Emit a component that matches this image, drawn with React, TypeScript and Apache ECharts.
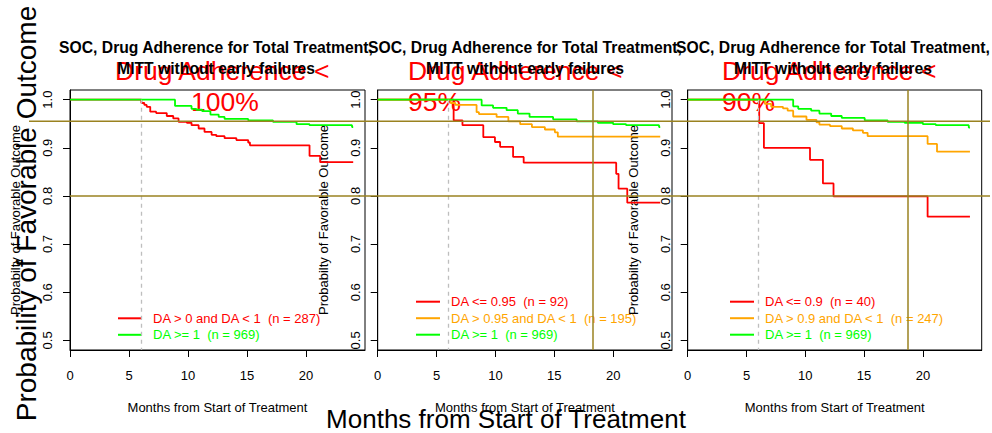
import React, { useEffect, useRef } from "react";
import * as echarts from "echarts";

const FONT = "'Liberation Sans', Arial, Helvetica, sans-serif";

const xTicks = [0, 5, 10, 15, 20];
const yTicks = [0.5, 0.6, 0.7, 0.8, 0.9, 1.0];

const panelTitle = "SOC, Drug Adherence for Total Treatment,\nMITT without early failures";
const yTitle = "Probabilty of Favorable Outcome";
const xTitle = "Months from Start of Treatment";
const outerYTitle = "Probability of Favorable Outcome";
const outerXTitle = "Months from Start of Treatment";
const annotLine1 = "Drug Adherence <";
const annotLine2 = ["100%", "95%", "90%"];

// Panel 1 (DA < 100%)
const p1RedName = "DA > 0 and DA < 1  (n = 287)";
const p1RedT = [0, 6.05, 6.3, 6.5, 6.8, 7.3, 8.2, 8.75, 9.2, 9.9, 10.3, 10.9, 11.4, 12.0, 12.4, 13.1, 14.1, 15.1, 15.25, 20.3, 21.2, 24.0];
const p1RedS = [1, 0.993, 0.989, 0.985, 0.975, 0.972, 0.966, 0.961, 0.954, 0.952, 0.947, 0.940, 0.933, 0.927, 0.924, 0.920, 0.916, 0.911, 0.905, 0.883, 0.870, 0.870];
const greenName = "DA >= 1  (n = 969)";
const p1GreenT = [0, 8.9, 10.3, 10.7, 11.2, 11.9, 12.6, 13.1, 15.1, 17.2, 19.2, 20.3, 23.9, 24.0];
const p1GreenS = [1, 0.987, 0.981, 0.979, 0.976, 0.969, 0.964, 0.960, 0.957, 0.954, 0.949, 0.947, 0.943, 0.943];

// Panel 2 (DA < 95%)
const p2RedName = "DA <= 0.95  (n = 92)";
const p2RedT = [0, 6.45, 7.2, 8.97, 9.96, 10.4, 11.5, 12.4, 20.26, 20.46, 21.2, 24.0];
const p2RedS = [1, 0.957, 0.947, 0.922, 0.912, 0.902, 0.881, 0.869, 0.846, 0.815, 0.786, 0.786];
const p2OrangeName = "DA > 0.95 and DA < 1  (n = 195)";
const p2OrangeT = [0, 6.2, 6.6, 8.4, 8.6, 10.1, 11.1, 12.1, 13.1, 14.2, 15.05, 15.3, 24.0];
const p2OrangeS = [1, 0.993, 0.989, 0.974, 0.970, 0.964, 0.955, 0.949, 0.943, 0.938, 0.932, 0.923, 0.923];
const p2GreenT = [0, 8.83, 9.8, 10.95, 11.9, 12.9, 14.9, 16.9, 18.7, 20.0, 21.1, 23.9, 24.0];
const p2GreenS = [1, 0.988, 0.983, 0.978, 0.971, 0.964, 0.959, 0.955, 0.952, 0.949, 0.947, 0.943, 0.943];

// Panel 3 (DA < 90%)
const p3RedName = "DA <= 0.9  (n = 40)";
const p3RedT = [0, 6.08, 6.48, 10.4, 11.5, 12.4, 20.4, 24.0];
const p3RedS = [1, 0.951, 0.900, 0.875, 0.826, 0.799, 0.757, 0.757];
const p3OrangeName = "DA > 0.9 and DA < 1  (n = 247)";
const p3OrangeT = [0, 6.56, 7.1, 8.1, 8.5, 8.97, 10.1, 10.95, 11.2, 12.1, 13.1, 14.05, 14.9, 15.3, 20.4, 21.2, 24.0];
const p3OrangeS = [1, 0.991, 0.985, 0.982, 0.977, 0.965, 0.958, 0.953, 0.948, 0.945, 0.940, 0.936, 0.931, 0.924, 0.908, 0.892, 0.892];
const p3GreenT = [0, 8.97, 9.4, 10.5, 11.2, 12.2, 13.1, 15.05, 17.0, 18.45, 20.0, 21.1, 23.9, 24.0];
const p3GreenS = [1, 0.986, 0.981, 0.977, 0.971, 0.966, 0.962, 0.957, 0.954, 0.952, 0.949, 0.947, 0.942, 0.942];

// reference lines
const landmarkMonth = 6;
const hLineUpper = 0.955;
const hLineLower = 0.8;
const vLineMonths = [null, 18.3, 18.68];

const RED = "#FF0000";
const ORANGE = "#FFA500";
const GREEN = "#00FF00";
const OLIVE = "#9A8220";
const GREY = "#BEBEBE";

const zip = (t: number[], s: number[]) => t.map((v, i) => [v, s[i]]);

const gridPos = [
  { left: 70, width: 295 },
  { left: 377.7, width: 294.3 },
  { left: 687.7, width: 294 },
];

export default function App() {
  const ref = useRef<HTMLDivElement>(null);
  useEffect(() => {
    if (!ref.current) return;
    const chart = echarts.init(ref.current, undefined, { renderer: "svg" });

    const grids = gridPos.map((g) => ({
      left: g.left,
      width: g.width,
      top: 90,
      height: 260,
      show: true,
      borderColor: "#000",
      borderWidth: 1,
      backgroundColor: "transparent",
    }));

    const xAxes = gridPos.map((_, i) => ({
      type: "value",
      gridIndex: i,
      min: 0,
      max: 25,
      axisLine: { show: true, onZero: false, lineStyle: { color: "#000", width: 1 } },
      axisTick: { show: true, customValues: xTicks, length: 7, lineStyle: { color: "#000" } },
      axisLabel: { customValues: xTicks, margin: 19, fontSize: 13, color: "#000", fontFamily: FONT },
      splitLine: { show: false },
      name: xTitle,
      nameLocation: "middle",
      nameGap: 51,
      nameTextStyle: { fontSize: 13, color: "#000", fontFamily: FONT },
    }));

    const yAxes = gridPos.map((_, i) => ({
      type: "value",
      gridIndex: i,
      min: 0.48,
      max: 1.02,
      axisLine: { show: true, onZero: false, lineStyle: { color: "#000", width: 1 } },
      axisTick: { show: true, customValues: yTicks, length: 7, lineStyle: { color: "#000" } },
      axisLabel: {
        customValues: yTicks,
        rotate: 90,
        margin: 16,
        fontSize: 13,
        color: "#000",
        fontFamily: FONT,
        formatter: (v: number) => v.toFixed(1),
      },
      splitLine: { show: false },
      name: yTitle,
      nameLocation: "middle",
      nameRotate: 90,
      nameGap: 48,
      nameTextStyle: { fontSize: 13, color: "#000", fontFamily: FONT },
    }));

    const mkLine = (i: number) => {
      const data: any[] = [
        [
          { coord: [landmarkMonth, 1.0], lineStyle: { color: GREY, width: 1.3, type: [4, 4] } },
          { coord: [landmarkMonth, 0.48] },
        ],
      ];
      const vm = vLineMonths[i];
      if (vm !== null) {
        data.push([
          { coord: [vm, 1.02], lineStyle: { color: OLIVE, width: 1.5, type: "solid" } },
          { coord: [vm, 0.48] },
        ]);
      }
      return {
        silent: true,
        symbol: ["none", "none"],
        label: { show: false },
        animation: false,
        data,
      };
    };

    const line = (name: string, color: string, i: number, data: number[][], extra: any = {}) => ({
      type: "line",
      name,
      xAxisIndex: i,
      yAxisIndex: i,
      data,
      step: "end",
      symbol: "none",
      showSymbol: false,
      color,
      lineStyle: { color, width: 1.8 },
      clip: false,
      ...extra,
    });

    const series = [
      line(p1RedName, RED, 0, zip(p1RedT, p1RedS), { markLine: mkLine(0) }),
      line(greenName, GREEN, 0, zip(p1GreenT, p1GreenS)),
      line(p2RedName, RED, 1, zip(p2RedT, p2RedS), { markLine: mkLine(1) }),
      line(p2OrangeName, ORANGE, 1, zip(p2OrangeT, p2OrangeS)),
      line(greenName, GREEN, 1, zip(p2GreenT, p2GreenS)),
      line(p3RedName, RED, 2, zip(p3RedT, p3RedS), { markLine: mkLine(2) }),
      line(p3OrangeName, ORANGE, 2, zip(p3OrangeT, p3OrangeS)),
      line(greenName, GREEN, 2, zip(p3GreenT, p3GreenS)),
    ];

    const legendBase = {
      orient: "vertical",
      icon: "rect",
      itemWidth: 24,
      itemHeight: 2,
      itemGap: 3.5,
      padding: 0,
      selectedMode: false,
      textStyle: { fontSize: 13, fontFamily: FONT, padding: [0, 0, 0, 6] },
    };
    const legends = [
      {
        ...legendBase,
        left: 118,
        top: 311.8,
        data: [
          { name: p1RedName, textStyle: { color: RED } },
          { name: greenName, textStyle: { color: GREEN } },
        ],
      },
      {
        ...legendBase,
        left: 416,
        top: 295.2,
        data: [
          { name: p2RedName, textStyle: { color: RED } },
          { name: p2OrangeName, textStyle: { color: ORANGE } },
          { name: greenName, textStyle: { color: GREEN } },
        ],
      },
      {
        ...legendBase,
        left: 730,
        top: 295.2,
        data: [
          { name: p3RedName, textStyle: { color: RED } },
          { name: p3OrangeName, textStyle: { color: ORANGE } },
          { name: greenName, textStyle: { color: GREEN } },
        ],
      },
    ];

    const titleCenters = [216, 525, 833];
    const titles = titleCenters.map((c) => ({
      text: panelTitle,
      left: c,
      top: 37,
      z: 20,
      textAlign: "center",
      padding: 0,
      textStyle: { fontSize: 15.7, fontWeight: "bold", color: "#000", fontFamily: FONT, lineHeight: 21 },
    }));

    chart.setOption({
      animation: false,
      backgroundColor: "#fff",
      title: titles,
      grid: grids,
      xAxis: xAxes,
      yAxis: yAxes,
      legend: legends,
      series,
    });

    // horizontal reference lines and free texts
    const yUp = chart.convertToPixel({ gridIndex: 0 }, [0, hLineUpper])[1];
    const yLo = chart.convertToPixel({ gridIndex: 0 }, [0, hLineLower])[1];
    const xLeft0 = chart.convertToPixel({ gridIndex: 0 }, [0, 1])[0];

    const annotPos = [
      { l1: 115, l2: 191 },
      { l1: 408, l2: 408 },
      { l1: 722, l2: 722 },
    ];
    const redText = (text: string, x: number, y: number) => ({
      type: "text",
      x,
      y,
      z: 2,
      style: {
        text,
        fill: RED,
        fontSize: 26.5,
        fontFamily: FONT,
        align: "left",
        textAlign: "left",
        verticalAlign: "middle",
        textVerticalAlign: "middle",
      },
    });

    const graphic: any[] = [
      {
        type: "line",
        z: 40,
        shape: { x1: 29, y1: yUp, x2: 990, y2: yUp },
        style: { stroke: OLIVE, lineWidth: 1.5 },
      },
      {
        type: "line",
        z: 40,
        shape: { x1: xLeft0, y1: yLo, x2: 990, y2: yLo },
        style: { stroke: OLIVE, lineWidth: 1.5 },
      },
      {
        type: "text",
        x: 26,
        y: 213.5,
        rotation: Math.PI / 2,
        z: 50,
        style: {
          text: outerYTitle,
          fill: "#000",
          fontSize: 28,
          fontFamily: FONT,
          align: "center",
          textAlign: "center",
          verticalAlign: "middle",
          textVerticalAlign: "middle",
        },
      },
      {
        type: "text",
        x: 506,
        y: 419,
        z: 50,
        style: {
          text: outerXTitle,
          fill: "#000",
          fontSize: 26,
          fontFamily: FONT,
          align: "center",
          textAlign: "center",
          verticalAlign: "middle",
          textVerticalAlign: "middle",
        },
      },
    ];
    annotPos.forEach((p, i) => {
      graphic.push(redText(annotLine1, p.l1, 70.5));
      graphic.push(redText(annotLine2[i], p.l2, 101.5));
    });

    chart.setOption({ graphic });

    return () => chart.dispose();
  }, []);

  return (
    <div
      ref={ref}
      style={{ position: "fixed", left: 0, top: 0, width: 992, height: 433, background: "#fff" }}
    />
  );
}
